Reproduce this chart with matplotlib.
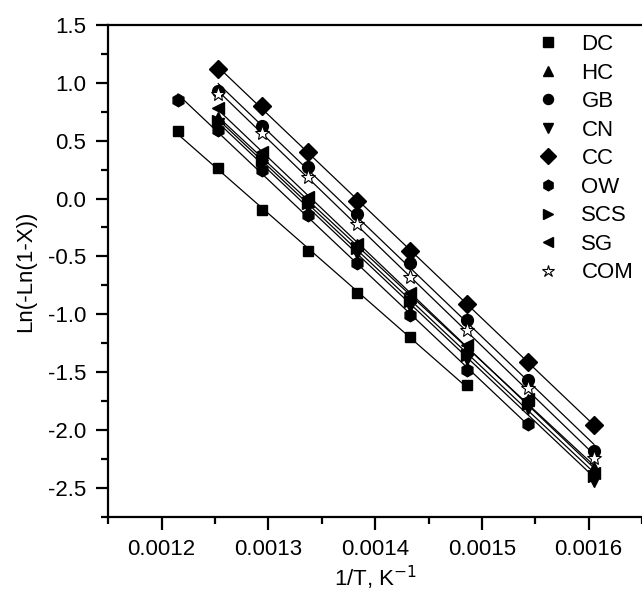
import matplotlib.pyplot as plt
import numpy as np
from matplotlib.ticker import MultipleLocator, FormatStrFormatter

plt.rcParams["font.family"] = ["Liberation Sans", "DejaVu Sans"]

# 1/T values (K^-1)
inv_t = [0.001215, 0.001253, 0.001294, 0.001337, 0.001383,
         0.001433, 0.001486, 0.001543, 0.001605]

names = ["DC", "HC", "GB", "CN", "CC", "OW", "SCS", "SG", "COM"]
markers = ["s", "^", "o", "v", "D", "h", ">", "<", "*"]
msizes = [7.8, 9, 8.5, 9, 9.5, 9, 9, 9, 11]

dc = [0.58, 0.26, -0.10, -0.45, -0.82, -1.20, -1.61]
hc = [0.70, 0.36, -0.02, -0.40, -0.85, -1.29, -1.74, -2.33]
gb = [0.93, 0.63, 0.27, -0.13, -0.56, -1.05, -1.57, -2.18]
cn = [0.64, 0.31, -0.07, -0.47, -0.93, -1.39, -1.81, -2.44]
cc = [1.12, 0.80, 0.40, -0.02, -0.45, -0.91, -1.41, -1.96]
ow = [0.85, 0.59, 0.25, -0.14, -0.56, -1.01, -1.48, -1.95]
scs = [0.67, 0.33, -0.04, -0.43, -0.89, -1.35, -1.78, -2.40]
sg = [0.78, 0.40, 0.01, -0.39, -0.82, -1.27, -1.73, -2.37]
com = [0.90, 0.57, 0.19, -0.22, -0.68, -1.14, -1.64, -2.24]

# which 1/T points each series covers
series = [
    (dc, inv_t[0:7]),
    (hc, inv_t[1:9]),
    (gb, inv_t[1:9]),
    (cn, inv_t[1:9]),
    (cc, inv_t[1:9]),
    (ow, inv_t[0:8]),
    (scs, inv_t[1:9]),
    (sg, inv_t[1:9]),
    (com, inv_t[1:9]),
]

fig = plt.figure(figsize=(6.42, 5.92), dpi=100)
ax = fig.add_axes([0.1687, 0.1272, 0.8313, 0.8306])

for (y, x), name, m, ms in zip(series, names, markers, msizes):
    x = np.array(x)
    y = np.array(y)
    # linear fit line across the data range
    k, b = np.polyfit(x, y, 1)
    xf = np.array([x.min(), x.max()])
    ax.plot(xf, k * xf + b, color="black", lw=0.9, zorder=2)
    if m == "*":
        ax.plot(x, y, ls="none", marker=m, ms=ms, mfc="white", mec="black",
                mew=0.8, label=name, zorder=3)
    else:
        ax.plot(x, y, ls="none", marker=m, ms=ms, color="black",
                label=name, zorder=3)

ax.set_xlim(0.00115, 0.00165)
ax.set_ylim(-2.75, 1.5)
ax.xaxis.set_minor_locator(MultipleLocator(0.00005))
ax.xaxis.set_major_formatter(FormatStrFormatter("%.4f"))
ax.yaxis.set_major_locator(MultipleLocator(0.5))
ax.yaxis.set_minor_locator(MultipleLocator(0.25))
ax.yaxis.set_major_formatter(FormatStrFormatter("%.1f"))
ax.set_xticks([0.0012, 0.0013, 0.0014, 0.0015, 0.0016])
ax.set_yticks([-2.5, -2.0, -1.5, -1.0, -0.5, 0.0, 0.5, 1.0, 1.5])

ax.spines["right"].set_visible(False)
for s in ["left", "bottom", "top"]:
    ax.spines[s].set_linewidth(1.6)

ax.tick_params(which="major", direction="out", length=9, width=1.6,
               labelsize=16, pad=7)
ax.tick_params(which="minor", direction="out", length=5, width=1.6)
ax.tick_params(top=False, right=False)

ax.set_xlabel("1/T, K$^{-1}$", fontsize=16, labelpad=3)
ax.set_ylabel("Ln(-Ln(1-X))", fontsize=16, labelpad=8)

leg = ax.legend(loc="upper left", frameon=False, fontsize=16,
                markerscale=0.85, handlelength=1.0, handletextpad=1.0,
                labelspacing=0.34, borderaxespad=0, borderpad=0,
                bbox_to_anchor=(537 / 642, 1 - 34 / 592),
                bbox_transform=fig.transFigure)

fig.savefig("out.png", dpi=100)
